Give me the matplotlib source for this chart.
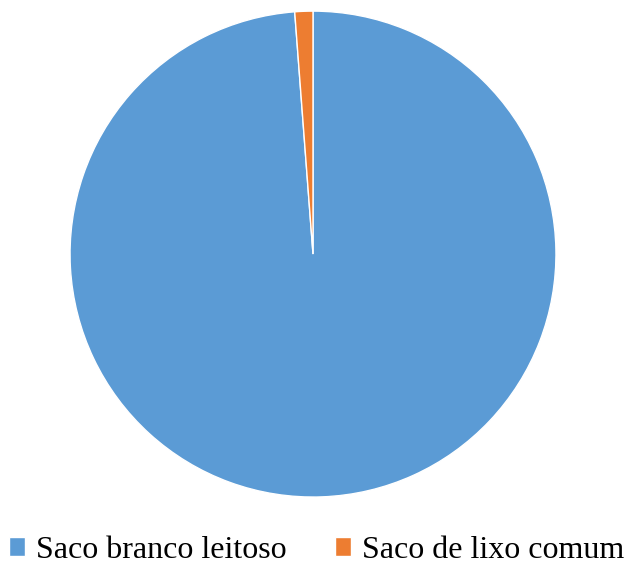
import matplotlib.pyplot as plt

# dados
categorias = ["Saco branco leitoso", "Saco de lixo comum"]
valores = [98.8, 1.2]
cores = ["#5B9BD5", "#ED7D31"]

fig = plt.figure(figsize=(6.25, 5.67), dpi=100)
ax = fig.add_axes([0.112, 0.1234, 0.7776, 0.857])

fatias, _ = ax.pie(valores, colors=cores, startangle=90, counterclock=False,
                   radius=1, wedgeprops=dict(edgecolor="white", linewidth=1))
ax.set_xlim(-1, 1)
ax.set_ylim(-1, 1)
ax.set_aspect("equal")
ax.axis("off")

fig.legend(fatias, categorias, loc="lower center", bbox_to_anchor=(0.507, -0.047),
           ncol=2, frameon=False, prop=dict(family="Liberation Serif", size=23),
           handlelength=0.5, handleheight=0.5, handletextpad=0.35, columnspacing=1.5)

fig.savefig("out.png", dpi=100)
